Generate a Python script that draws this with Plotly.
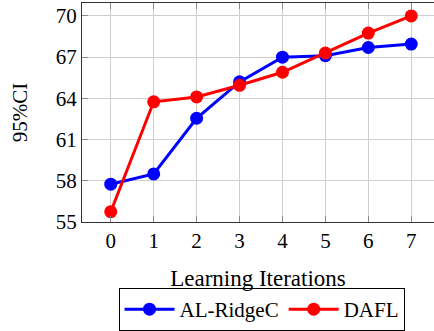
import plotly.graph_objects as go

# Learning-iteration results for the two methods
iterations = [0, 1, 2, 3, 4, 5, 6, 7]
al_ridgec = [57.75, 58.5, 62.55, 65.2, 67.0, 67.1, 67.7, 67.95]
dafl = [55.75, 63.75, 64.1, 64.95, 65.9, 67.3, 68.75, 70.0]
y_ticks = [55, 58, 61, 64, 67, 70]

FONT = "Liberation Serif"

fig = go.Figure()
fig.add_trace(go.Scatter(
    x=iterations, y=al_ridgec, name="AL-RidgeC", mode="lines+markers",
    line=dict(color="#0000ff", width=3),
    marker=dict(color="#0000ff", size=13),
))
fig.add_trace(go.Scatter(
    x=iterations, y=dafl, name="DAFL", mode="lines+markers",
    line=dict(color="#ff0000", width=3),
    marker=dict(color="#ff0000", size=13),
))

fig.update_layout(
    width=434, height=331,
    margin=dict(l=82, r=0, t=3, b=108),
    paper_bgcolor="white", plot_bgcolor="white",
    font=dict(family=FONT, size=20, color="black"),
    showlegend=True,
    legend=dict(
        orientation="h", x=0.51, xanchor="center", y=-0.3, yanchor="top",
        bordercolor="black", borderwidth=1, bgcolor="white",
        font=dict(family=FONT, size=21), itemwidth=50,
        tracegroupgap=0,
    ),
    xaxis=dict(
        range=[-0.67, 7.53], tickvals=iterations, automargin=False,
        showgrid=True, gridcolor="#cfcfcf", gridwidth=1,
        ticks="inside", ticklen=6, tickcolor="#8a8a8a", mirror="ticks",
        showline=True, linecolor="#333333", linewidth=1,
        zeroline=False,
        title=dict(text="Learning Iterations", standoff=17,
                   font=dict(family=FONT, size=23)),
        tickfont=dict(family=FONT, size=21),
    ),
    yaxis=dict(
        range=[55, 70.94], tickvals=y_ticks, automargin=False,
        showgrid=True, gridcolor="#cfcfcf", gridwidth=1,
        ticks="inside", ticklen=6, tickcolor="#8a8a8a",
        showline=True, linecolor="#333333", linewidth=1,
        zeroline=False,
        title=dict(text="95%CI", standoff=22,
                   font=dict(family=FONT, size=21)),
        tickfont=dict(family=FONT, size=21),
    ),
)

fig.write_html("out.html")
